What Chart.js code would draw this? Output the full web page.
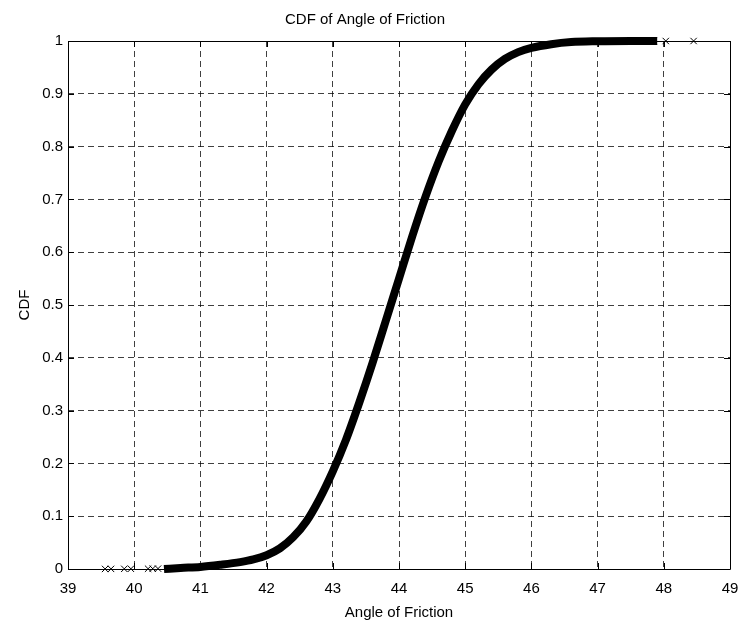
<!DOCTYPE html>
<html>
<head>
<meta charset="utf-8">
<script src="https://cdn.jsdelivr.net/npm/chart.js@4"></script>
<style>
  html, body { margin: 0; padding: 0; background: #fff; }
  #chart { display: block; }
</style>
</head>
<body>
<canvas id="chart" width="743" height="629"></canvas>
<script>
// ─── Data ────────────────────────────────────────────────────────────────────
const curveAngles = [40.45, 40.7, 41.0, 41.3, 41.6, 41.8, 42.0, 42.2, 42.4, 42.6, 42.8, 43.0,
  43.2, 43.4, 43.6, 43.8, 44.0, 44.2, 44.4, 44.6, 44.8, 45.0, 45.2, 45.4, 45.6, 45.8,
  46.0, 46.3, 46.6, 47.0, 47.5, 47.9];
const curveCdf = [0.000, 0.002, 0.004, 0.008, 0.013, 0.018, 0.026, 0.039, 0.060, 0.090, 0.133, 0.185,
  0.245, 0.315, 0.390, 0.470, 0.550, 0.630, 0.705, 0.772, 0.830, 0.880, 0.918, 0.946, 0.966, 0.979,
  0.987, 0.994, 0.998, 0.9995, 1.0, 1.0];

// isolated samples in the tails
const tailAngles = [39.56, 39.65, 39.85, 39.95, 40.21, 40.28, 40.36, 47.55, 47.65, 47.75, 47.85, 48.03, 48.45];
const tailCdf    = [0.0001, 0.0002, 0.0003, 0.0004, 0.0005, 0.0006, 0.0007, 1, 1, 1, 1, 1, 1];

const xTicks = [39, 40, 41, 42, 43, 44, 45, 46, 47, 48, 49];
const yTicks = [0, 0.1, 0.2, 0.3, 0.4, 0.5, 0.6, 0.7, 0.8, 0.9, 1];

const FONT = "'Liberation Sans', Arial, Helvetica, sans-serif";

// ─── Frame plugin: solid box + inward ticks, like MATLAB axes ────────────────
const framePlugin = {
  id: 'frame',
  afterDatasetsDraw(chart) {
    const { ctx, chartArea: a, scales: { x, y } } = chart;
    const len = 6;
    ctx.save();
    ctx.strokeStyle = '#000';
    ctx.lineWidth = 1;
    ctx.beginPath();
    ctx.rect(Math.round(a.left) + 0.5, Math.round(a.top) + 0.5,
             Math.round(a.right - a.left), Math.round(a.bottom - a.top));
    xTicks.forEach(v => {
      const px = Math.round(x.getPixelForValue(v)) + 0.5;
      ctx.moveTo(px, a.bottom); ctx.lineTo(px, a.bottom - len);
      ctx.moveTo(px, a.top);    ctx.lineTo(px, a.top + len);
    });
    yTicks.forEach(v => {
      const py = Math.round(y.getPixelForValue(v)) + 0.5;
      ctx.moveTo(a.left, py);  ctx.lineTo(a.left + len, py);
      ctx.moveTo(a.right, py); ctx.lineTo(a.right - len, py);
    });
    ctx.stroke();
    ctx.restore();
  }
};

// ─── Chart ───────────────────────────────────────────────────────────────────
const curvePoints = curveAngles.map((v, i) => ({ x: v, y: curveCdf[i] }));
const tailPoints  = tailAngles.map((v, i) => ({ x: v, y: tailCdf[i] }));

const gridStyle = { color: 'rgba(0,0,0,0.75)', lineWidth: 1, drawTicks: false };
const gridBorder = { display: false, dash: [6, 4] };

new Chart(document.getElementById('chart'), {
  type: 'scatter',
  data: {
    datasets: [
      { label: 'CDF', data: curvePoints, showLine: true, borderColor: '#000',
        borderWidth: 8, pointRadius: 0, cubicInterpolationMode: 'monotone',
        borderCapStyle: 'butt', clip: false },
      { label: 'tails', data: tailPoints, pointStyle: 'crossRot', pointRadius: 4.5,
        borderColor: '#000', backgroundColor: '#000', borderWidth: 1, clip: false },
    ]
  },
  options: {
    responsive: false,
    animation: false,
    layout: { padding: { left: 0, right: 13, top: 0, bottom: 0 } },
    plugins: {
      legend: { display: false },
      tooltip: { enabled: false },
      title: {
        display: true, text: 'CDF of Angle of Friction', color: '#000',
        font: { family: FONT, size: 15, weight: 'normal', lineHeight: 1.2 },
        padding: { top: 11, bottom: 12 }
      }
    },
    scales: {
      x: {
        type: 'linear', min: 39, max: 49,
        afterBuildTicks: s => { s.ticks = xTicks.map(v => ({ value: v })); },
        afterFit: s => { s.height = 60; s.paddingLeft = 0; s.paddingRight = 4; },
        grid: gridStyle,
        border: gridBorder,
        ticks: { color: '#000', padding: 11, font: { family: FONT, size: 15 } },
        title: { display: true, text: 'Angle of Friction', color: '#000',
          font: { family: FONT, size: 15, lineHeight: 1.2 }, padding: { top: 0, bottom: 7 } }
      },
      y: {
        type: 'linear', min: 0, max: 1,
        afterBuildTicks: s => { s.ticks = yTicks.map(v => ({ value: v })); },
        afterFit: s => { s.width = 68; },
        grid: gridStyle,
        border: gridBorder,
        ticks: { color: '#000', padding: 5, font: { family: FONT, size: 15 },
          callback: v => String(Math.round(v * 10) / 10) },
        title: { display: true, text: 'CDF', color: '#000',
          font: { family: FONT, size: 15, lineHeight: 1.2 }, padding: { top: 16, bottom: 0 } }
      }
    }
  },
  plugins: [framePlugin]
});
</script>
</body>
</html>
